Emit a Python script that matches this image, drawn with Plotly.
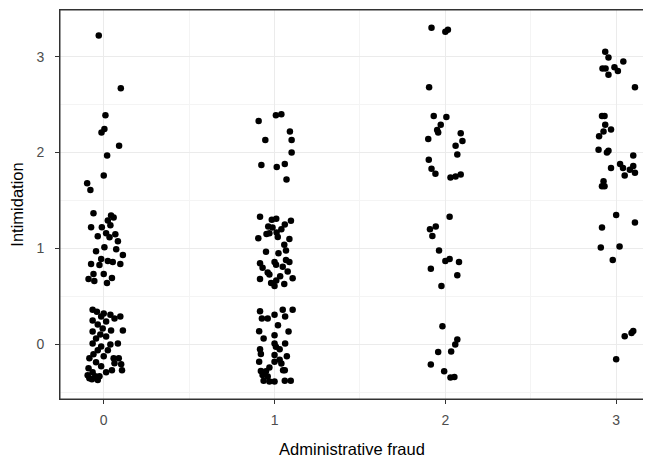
import plotly.graph_objects as go

# Administrative fraud category, jitter offset, and intimidation score
fraud_levels = [0, 1, 2, 3]

jit0 = [-0.029, 0.01, 0.004, -0.013, 0.02, 0.0, -0.097, -0.078, 0.10, 0.09,
        -0.060, 0.043, 0.024, 0.058, 0.039, -0.011, -0.074, 0.014, 0.068, -0.035,
        0.034, 0.083, 0.004, 0.073, -0.045, 0.112, -0.015, 0.024, 0.053, -0.074,
        0.097, -0.025, -0.060, 0.0, -0.089, 0.048, -0.055, 0.019,
        -0.065, -0.040, 0.0, -0.015, 0.039, -0.065, 0.063, -0.035, 0.014, 0.097,
        -0.006, -0.065, 0.043, 0.112, -0.020, -0.045, 0.014, -0.065, 0.039, -0.015,
        0.083, -0.035, 0.024, -0.060, 0.0, -0.084, 0.088, 0.058, -0.045, 0.063,
        0.102, -0.089, -0.015, -0.065, 0.014, 0.048, 0.107, -0.094, -0.050, -0.084,
        -0.025, -0.035, -0.069]
int0 = [3.22, 2.39, 2.245, 2.21, 1.97, 1.76, 1.68, 1.61, 2.67, 2.07,
        1.366, 1.345, 1.293, 1.324, 1.241, 1.221, 1.221, 1.159, 1.148, 1.128,
        1.117, 1.076, 1.014, 0.993, 0.972, 0.931, 0.890, 0.869, 0.859, 0.838,
        0.838, 0.828, 0.734, 0.734, 0.683, 0.693, 0.662, 0.641,
        0.362, 0.341, 0.321, 0.290, 0.310, 0.248, 0.269, 0.207, 0.238, 0.290,
        0.166, 0.134, 0.145, 0.145, 0.103, 0.062, 0.083, 0.010, 0.0, -0.021,
        0.010, -0.062, -0.062, -0.103, -0.124, -0.145, -0.145, -0.145, -0.186, -0.197,
        -0.207, -0.248, -0.228, -0.290, -0.290, -0.269, -0.269, -0.321, -0.331, -0.352,
        -0.331, -0.372, -0.362]

jit1 = [-0.093, 0.008, 0.04, 0.09, -0.054, 0.10, 0.10, -0.077, 0.013, 0.06, 0.07,
        -0.085, -0.016, 0.01, -0.037, -0.012, 0.012, -0.095, -0.047, -0.03, -0.05,
        -0.085, 0.0, -0.07, -0.04, -0.085, -0.02, 0.0, -0.03, 0.01,
        0.096, 0.087, 0.057, 0.067, 0.087, 0.048, 0.077, 0.106, 0.057, 0.019,
        0.023, 0.009, 0.033, 0.067, 0.04, 0.06,
        -0.085, 0.0, -0.074, -0.04, -0.09, -0.064, 0.0, 0.0, 0.008, -0.085,
        -0.08, 0.0, -0.09, 0.0, -0.08, -0.05, -0.03, -0.07, -0.064, -0.03,
        0.0, -0.04,
        0.03, 0.04, 0.05, 0.06, 0.06, 0.095, 0.048, 0.106, 0.062, 0.082,
        0.062, 0.072, 0.02, 0.03]
int1 = [2.33, 2.39, 2.40, 2.22, 2.13, 2.13, 2.00, 1.87, 1.85, 1.88, 1.72,
        1.33, 1.30, 1.31, 1.23, 1.22, 1.166, 1.107, 1.15, 1.16, 0.965,
        0.845, 0.86, 0.80, 0.75, 0.683, 0.64, 0.61, 0.73, 0.665,
        1.29, 1.10, 1.04, 0.98, 0.86, 0.81, 0.76, 0.69, 0.63, 1.12,
        0.95, 0.83, 0.71, 0.88, 1.20, 1.25,
        0.345, 0.31, 0.27, 0.27, 0.138, 0.062, 0.096, 0.01, -0.024, -0.05,
        -0.10, -0.11, -0.18, -0.18, -0.276, -0.28, -0.24, -0.32, -0.38, -0.386,
        -0.386, -0.335,
        -0.16, -0.20, -0.27, -0.27, -0.38, -0.38, 0.362, 0.362, 0.29, 0.134,
        0.01, -0.124, 0.20, -0.05]

jit2 = [-0.081, 0.0, 0.015, -0.095, -0.068, 0.006, -0.027, -0.048, -0.042, -0.1,
        -0.097, -0.081, -0.058, 0.03, 0.09, 0.10, 0.06, 0.07, 0.06, 0.09,
        0.025, -0.09, -0.056, -0.076, -0.037, 0.0, 0.025, -0.085, -0.023, 0.08, 0.07,
        -0.017, -0.042, 0.034, 0.058, 0.07, -0.085, -0.007, 0.03, 0.053]
int2 = [3.30, 3.26, 3.28, 2.68, 2.38, 2.37, 2.29, 2.235, 2.21, 2.14,
        1.925, 1.83, 1.78, 1.74, 2.20, 2.12, 2.07, 1.98, 1.75, 1.77,
        1.33, 1.20, 1.23, 1.13, 0.98, 0.87, 0.89, 0.79, 0.61, 0.86, 0.72,
        0.19, -0.08, -0.075, 0.0, 0.05, -0.21, -0.28, -0.345, -0.34]

jit3 = [-0.064, -0.045, 0.042, -0.08, -0.062, -0.01, -0.045, 0.01, -0.083, -0.068,
        -0.064, -0.03, -0.074, -0.1, -0.103, -0.054, -0.045, -0.03, 0.023, 0.04,
        0.05, -0.074, -0.083, -0.068, 0.11, 0.10, 0.08, 0.11, 0.10,
        0.0, -0.083, -0.09, 0.02, -0.02, 0.11,
        0.05, 0.0, 0.09, 0.10]
int3 = [3.05, 2.99, 2.95, 2.875, 2.875, 2.89, 2.81, 2.85, 2.38, 2.38,
        2.29, 2.24, 2.22, 2.17, 2.03, 2.00, 2.02, 1.84, 1.88, 1.84,
        1.76, 1.70, 1.65, 1.65, 2.68, 1.97, 1.82, 1.79, 1.86,
        1.35, 1.22, 1.01, 1.02, 0.88, 1.27,
        0.086, -0.155, 0.12, 0.14]

jitters = [jit0, jit1, jit2, jit3]
scores = [int0, int1, int2, int3]

xs, ys = [], []
for lvl, jit, sc in zip(fraud_levels, jitters, scores):
    xs += [lvl + j for j in jit]
    ys += list(sc)

fig = go.Figure(go.Scatter(
    x=xs, y=ys, mode="markers",
    marker=dict(color="black", size=6.5, line=dict(width=0)),
    showlegend=False,
))

grid_major = "#EBEBEB"
grid_minor = "#F4F4F4"
font_family = "Liberation Sans, Arial, sans-serif"

# the page body adds an 8px margin, so the figure is sized to the remaining area
fig.update_layout(
    width=643, height=450,
    margin=dict(l=48, r=7, t=1, b=57),
    paper_bgcolor="white", plot_bgcolor="white",
    font=dict(family=font_family, color="black"),
    shapes=[dict(type="rect", xref="paper", yref="paper", x0=0, x1=1, y0=0, y1=1,
                 line=dict(color="#333333", width=1), fillcolor="rgba(0,0,0,0)",
                 layer="above")],
)

fig.update_xaxes(
    range=[-0.256, 3.163],
    tickmode="array", tickvals=fraud_levels, ticktext=[str(v) for v in fraud_levels],
    showgrid=True, gridcolor=grid_major, gridwidth=1.1,
    minor=dict(tickmode="array", tickvals=[0.5, 1.5, 2.5], showgrid=True,
               gridcolor=grid_minor, gridwidth=0.6, ticks=""),
    zeroline=False,
    showline=True, mirror=True, linecolor="#333333", linewidth=1,
    ticks="outside", ticklen=4, tickcolor="#333333", tickwidth=1,
    ticklabelstandoff=4,
    tickfont=dict(size=14, color="#4D4D4D", family=font_family),
    title=dict(text="Administrative fraud", font=dict(size=16.5, color="black"), standoff=18),
)
fig.update_yaxes(
    range=[-0.569, 3.486],
    tickmode="array", tickvals=[0, 1, 2, 3], ticktext=["0", "1", "2", "3"],
    showgrid=True, gridcolor=grid_major, gridwidth=1.1,
    minor=dict(tickmode="array", tickvals=[-0.5, 0.5, 1.5, 2.5, 3.5], showgrid=True,
               gridcolor=grid_minor, gridwidth=0.6, ticks=""),
    zeroline=False,
    showline=True, mirror=True, linecolor="#333333", linewidth=1,
    ticks="outside", ticklen=4, tickcolor="#333333", tickwidth=1,
    ticklabelstandoff=8,
    tickfont=dict(size=14, color="#4D4D4D", family=font_family),
    title=dict(text="Intimidation", font=dict(size=16.5, color="black"), standoff=16),
)

fig.write_html("out.html")
